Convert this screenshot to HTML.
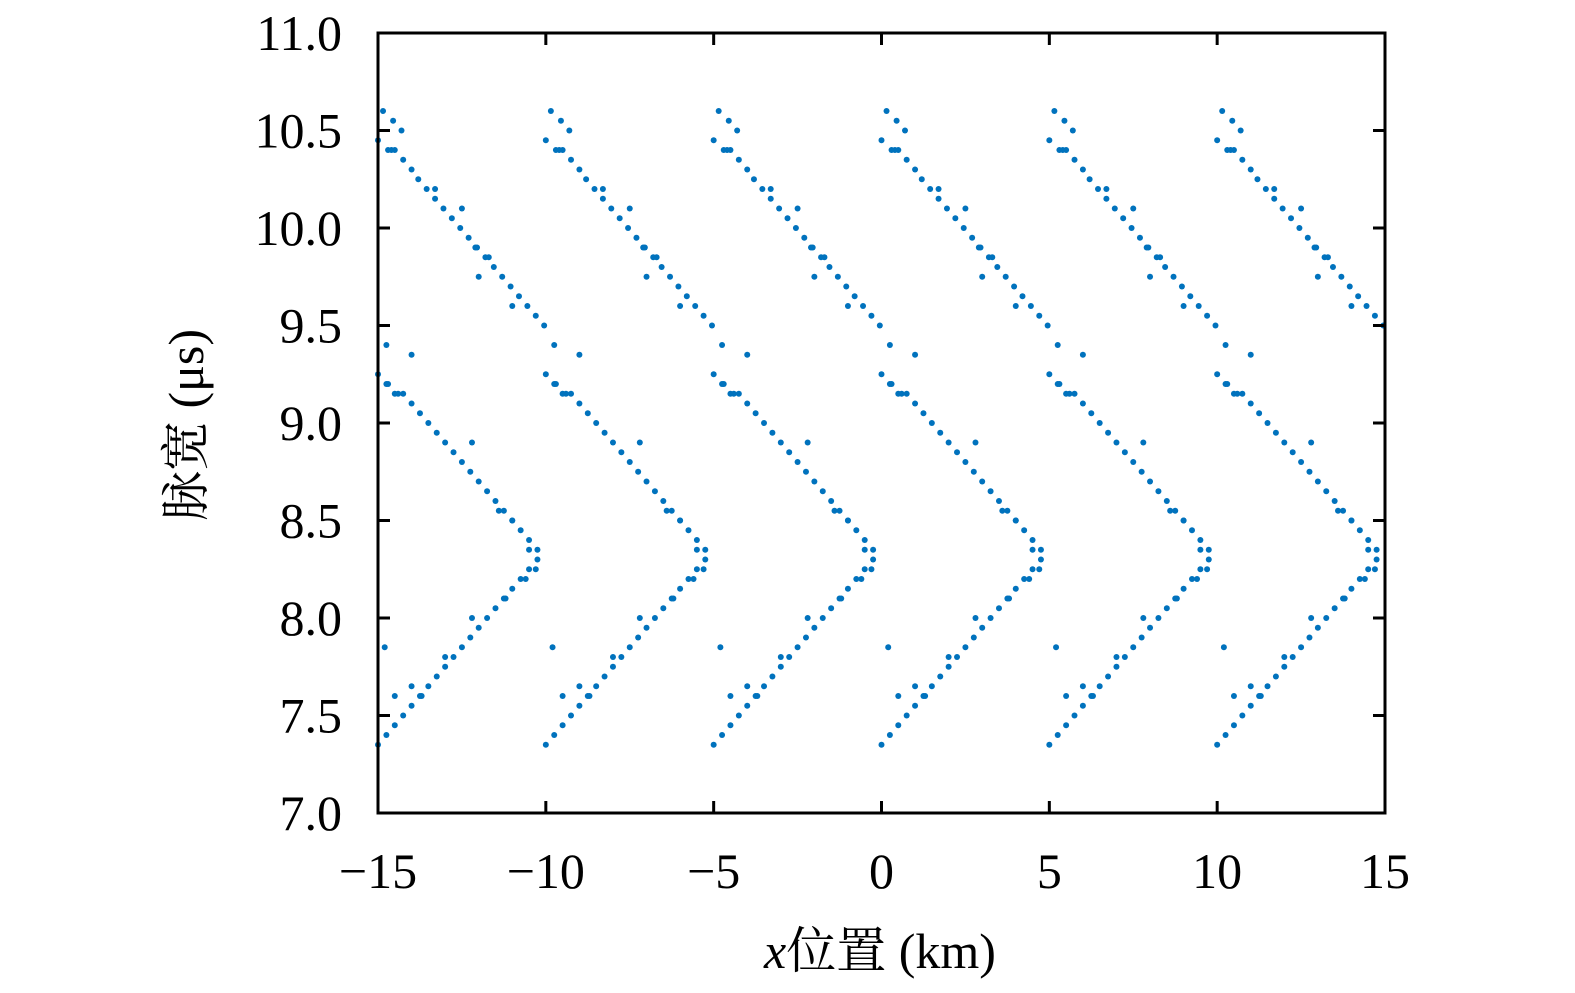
<!DOCTYPE html>
<html><head><meta charset="utf-8"><style>
body{margin:0;background:#fff;width:1575px;height:988px;overflow:hidden}
svg text{font-family:"Liberation Serif","Noto Serif CJK SC",serif;fill:#000}
</style></head><body>
<svg id="chart" width="1575" height="988" xmlns="http://www.w3.org/2000/svg">
<g id="marks"></g>
<g id="axes"></g>
<text x="880" y="968" font-size="50" text-anchor="middle"><tspan font-style="italic">x</tspan>位置 (km)</text>
<text transform="translate(203,425) rotate(-90)" font-size="50" text-anchor="middle">脉宽 (μs)</text>
</svg>
<script>
const xTicks=[-15,-10,-5,0,5,10,15];
const xTickLabels=["\u221215","\u221210","\u22125","0","5","10","15"];
const yTicks=[7.0,7.5,8.0,8.5,9.0,9.5,10.0,10.5,11.0];
const yTickLabels=["7.0","7.5","8.0","8.5","9.0","9.5","10.0","10.5","11.0"];
const periodStarts=[-15,-10,-5,0,5,10];
const patternDx=[0,0.3,0.5,0.75,1.0,1.2,1.45,1.7,1.95,2.2,2.45,2.7,2.95,3.2,3.45,3.7,3.95,4.2,4.45,4.7,4.95,
0.4,0.15,0.45,0.7,1.7,2.5,3.0,3.3,4.0,2.9,
0,0.25,0.5,0.75,1.0,1.25,1.5,1.75,2.0,2.25,2.5,2.75,3.0,3.25,3.5,3.75,4.0,4.25,4.5,4.75,
0.3,0.6,0.25,1.0,2.8,3.6,4.0,4.5,4.7,
0,0.25,0.5,0.75,1.0,1.25,1.5,1.75,2.0,2.25,2.5,2.75,3.0,3.25,3.5,3.75,4.0,4.25,4.5,4.75,
0.5,1.0,1.3,2.0,2.8,0.2,3.8,4.4];
const patternY=[10.45,10.4,10.4,10.35,10.3,10.25,10.2,10.15,10.1,10.05,10.0,9.95,9.9,9.85,9.8,9.75,9.7,9.65,9.6,9.55,9.5,
10.4,10.6,10.55,10.5,10.2,10.1,9.75,9.85,9.6,9.9,
9.25,9.2,9.15,9.15,9.1,9.05,9.0,8.95,8.9,8.85,8.8,8.75,8.7,8.65,8.6,8.55,8.5,8.45,8.4,8.35,
9.2,9.15,9.4,9.35,8.9,8.55,8.5,8.35,8.25,
7.35,7.4,7.45,7.5,7.55,7.6,7.65,7.7,7.75,7.8,7.85,7.9,7.95,8.0,8.05,8.1,8.15,8.2,8.25,8.3,
7.6,7.65,7.6,7.8,8.0,7.85,8.1,8.2];
const L=378,R=1385,T=33,B=813;
const xs=v=>L+(v+15)/30*(R-L);
const ys=v=>B-(v-7)/4*(B-T);
const NS="http://www.w3.org/2000/svg";
const marks=document.getElementById('marks');
periodStarts.forEach(p=>{
  patternDx.forEach((dx,i)=>{
    const xv=p+dx; if(xv>15.01) return;
    const c=document.createElementNS(NS,'circle');
    c.setAttribute('cx',xs(xv));c.setAttribute('cy',ys(patternY[i]));
    c.setAttribute('r',3);c.setAttribute('fill','#0072BD');
    
    
    marks.appendChild(c);
  });
});
const axes=document.getElementById('axes');
function mk(tag,attrs){const e=document.createElementNS(NS,tag);for(const k in attrs)e.setAttribute(k,attrs[k]);axes.appendChild(e);return e;}
const frame=mk('rect',{x:L,y:T,width:R-L,height:B-T,fill:'none',stroke:'#000','stroke-width':3});


xTicks.forEach((v,i)=>{
  const x=xs(v);
  const t1=mk('line',{x1:x,x2:x,y1:B,y2:B-12,stroke:'#000','stroke-width':3});
  
  
  const t2=mk('line',{x1:x,x2:x,y1:T,y2:T+12,stroke:'#000','stroke-width':3});
  
  
  const tx=mk('text',{x:x,y:888,'font-size':50,'text-anchor':'middle'});
  tx.textContent=xTickLabels[i];
  
  
});
yTicks.forEach((v,i)=>{
  const y=ys(v);
  const t1=mk('line',{x1:L,x2:L+12,y1:y,y2:y,stroke:'#000','stroke-width':3});
  
  
  const t2=mk('line',{x1:R,x2:R-12,y1:y,y2:y,stroke:'#000','stroke-width':3});
  
  
  const tx=mk('text',{x:342,y:y+17,'font-size':50,'text-anchor':'end'});
  tx.textContent=yTickLabels[i];
  
  
});
</script>
</body></html>
